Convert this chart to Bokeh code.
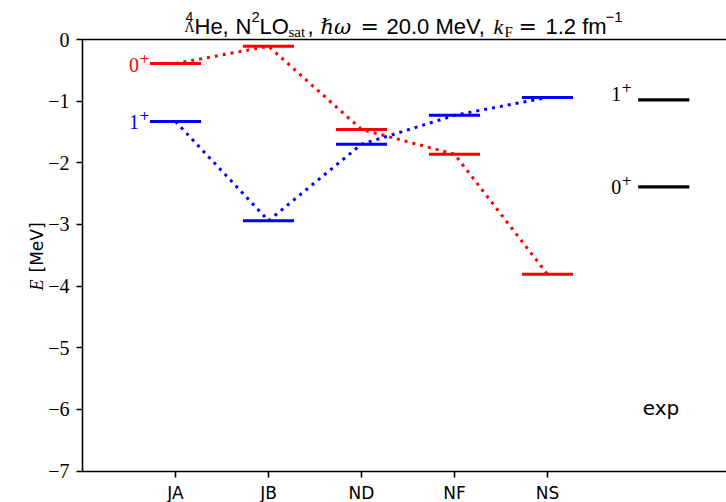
import numpy as np
from bokeh.plotting import figure
from bokeh.models import ColumnDataSource, Range1d, FixedTicker, LinearAxis, Label
from bokeh.core.properties import value
from bokeh.embed import file_html
from bokeh.resources import INLINE

# ---------------- data ----------------
models = ["JA", "JB", "ND", "NF", "NS"]
model_pos = [1, 2, 3, 4, 5]
E_0plus = [-0.39, -0.11, -1.46, -1.86, -3.81]
E_1plus = [-1.33, -2.94, -1.70, -1.23, -0.94]
exp_pos = 6.25
exp_J = ["1", "0"]
E_exp = [-0.98, -2.39]
y_ticks = [0, -1, -2, -3, -4, -5, -6, -7]
y_tick_labels = ["0", "−1", "−2", "−3", "−4", "−5", "−6", "−7"]

# ---------------- layout (pixel geometry of the axes box) ----------------
W, H = 726, 502
AX_LEFT_PX, AX_TOP_PX, AX_BOTTOM_PX = 82, 39, 470.5
X_MIN, Y_MIN, Y_MAX = 0.0, -7.0, 0.0
PX_PER_X = 93.0
PX_PER_Y = (AX_BOTTOM_PX - AX_TOP_PX) / (Y_MAX - Y_MIN)
HALF = 0.275


def dx(cx):
    return X_MIN + (cx - AX_LEFT_PX) / PX_PER_X


def dy(cy):
    return Y_MAX - (cy - AX_TOP_PX) / PX_PER_Y


X_RIGHT = dx(W)

p = figure(width=W, height=H, x_range=Range1d(dx(0), dx(W)), y_range=Range1d(dy(H), dy(0)),
           output_backend="svg", toolbar_location=None, title=None,
           x_axis_location=None, y_axis_location=None,
           min_border_left=0, min_border_right=0, min_border_top=0, min_border_bottom=0)
p.xgrid.visible = False
p.ygrid.visible = False
p.outline_line_color = None
p.background_fill_color = "white"
p.border_fill_color = "white"

AXW = 1.6


def style_axis(ax):
    ax.axis_line_width = AXW
    ax.axis_line_color = "black"
    ax.major_tick_line_width = AXW
    ax.major_tick_line_color = "black"
    ax.major_tick_out = 6
    ax.major_tick_in = 0
    ax.minor_tick_line_color = None
    ax.major_label_text_color = "black"


xa = LinearAxis(ticker=FixedTicker(ticks=model_pos), fixed_location=Y_MIN, bounds=(X_MIN, X_RIGHT))
xa.major_label_overrides = dict(zip(model_pos, models))
xa.major_label_text_font = "DejaVu Sans"
xa.major_label_text_font_size = "17px"
xa.major_label_standoff = 6
style_axis(xa)
p.add_layout(xa, "below")

ya = LinearAxis(ticker=FixedTicker(ticks=y_ticks), fixed_location=X_MIN, bounds=(Y_MIN, Y_MAX))
ya.major_label_overrides = dict(zip(y_ticks, y_tick_labels))
ya.major_label_text_font = "Liberation Serif"
ya.major_label_text_font_size = "20px"
ya.major_label_standoff = 7
style_axis(ya)
p.add_layout(ya, "left")

top = LinearAxis(ticker=FixedTicker(ticks=[]), fixed_location=Y_MAX, bounds=(X_MIN, X_RIGHT),
                 axis_line_width=AXW, axis_line_color="black",
                 major_tick_line_color=None, minor_tick_line_color=None)
p.add_layout(top, "above")

# ---------------- connectors ----------------
p.line(model_pos, E_0plus, line_color="red", line_width=3, line_dash="3 5")
p.line(model_pos, E_1plus, line_color="blue", line_width=3, line_dash="3 5")

# ---------------- levels ----------------
def bars(E, xs):
    return ColumnDataSource(dict(x0=[x - HALF for x in xs], x1=[x + HALF for x in xs], y=E))


p.segment(x0="x0", y0="y", x1="x1", y1="y", source=bars(E_0plus, model_pos), line_color="red", line_width=3)
p.segment(x0="x0", y0="y", x1="x1", y1="y", source=bars(E_1plus, model_pos), line_color="blue", line_width=3)
p.segment(x0="x0", y0="y", x1="x1", y1="y", source=bars(E_exp, [exp_pos] * len(E_exp)),
          line_color="black", line_width=3.2)

# ---------------- level labels (J with superscript parity) ----------------
def level_label(x, y, J, color, dxo, dyo):
    p.text(x=[x], y=[y], text=[J], text_color=color, text_align="right",
           text_baseline="alphabetic", text_font=value("Liberation Serif"),
           text_font_size="20px", x_offset=dxo - 11, y_offset=dyo)
    p.text(x=[x], y=[y], text=["+"], text_color=color, text_align="left",
           text_baseline="alphabetic", text_font=value("DejaVu Serif"),
           text_font_size="13px", x_offset=dxo - 11, y_offset=dyo - 7)


level_label(model_pos[0] - HALF, E_0plus[0], "0", "red", 0, 1)
level_label(model_pos[0] - HALF, E_1plus[0], "1", "blue", 0, 1)
level_label(exp_pos - HALF, E_exp[0], exp_J[0], "black", -6, -6)
level_label(exp_pos - HALF, E_exp[1], exp_J[1], "black", -6, 0)

p.text(x=[6.22], y=[-5.97], text=["exp"], text_color="black", text_align="center",
       text_baseline="alphabetic", text_font=value("DejaVu Sans"), text_font_size="20px")

# ---------------- y axis label ----------------
p.add_layout(Label(x=dx(36), y=dy(290), text="E", angle=np.pi / 2, text_font="Liberation Serif",
                   text_font_style="italic", text_font_size="18px", text_baseline="alphabetic",
                   text_align="left", text_color="black"))
p.add_layout(Label(x=dx(36), y=dy(272), text="[MeV]", angle=np.pi / 2, text_font="DejaVu Sans",
                   text_font_size="17px", text_baseline="alphabetic", text_align="left",
                   text_color="black"))

# ---------------- title pieces ----------------
SANS, SERIF, MSERIF, MSANS = "Liberation Sans", "Liberation Serif", "DejaVu Serif", "DejaVu Sans"
pieces = [
    (185, 16, "4", SANS, 14, "normal"),
    (184, 27, "Λ", SERIF, 14, "normal"),
    (194, 26, "He,", SANS, 22, "normal"),
    (235, 26, "N", SANS, 22, "normal"),
    (251, 16, "2", SANS, 15, "normal"),
    (259, 26, "LO", SANS, 22, "normal"),
    (288, 31, "sat", SERIF, 15, "normal"),
    (307, 26, ",", SANS, 22, "normal"),
    (320, 26, "ℏω", MSERIF, 21, "italic"),
    (360, 26, "=", MSANS, 22, "normal"),
    (386, 26, "20.0 MeV,", SANS, 22, "normal"),
    (493, 26, "k", SERIF, 22, "italic"),
    (504, 31, "F", SERIF, 15, "normal"),
    (518, 26, "=", MSANS, 22, "normal"),
    (545, 26, "1.2 fm", SANS, 22, "normal"),
    (605, 16, "−1", SANS, 15, "normal"),
]
for cx, cy, txt, fnt, sz, style in pieces:
    p.add_layout(Label(x=dx(cx), y=dy(cy), text=txt, text_font=fnt, text_font_size=f"{sz}px",
                       text_font_style=style, text_baseline="alphabetic", text_align="left",
                       text_color="black"))

open("out.html", "w").write(file_html(p, INLINE))
